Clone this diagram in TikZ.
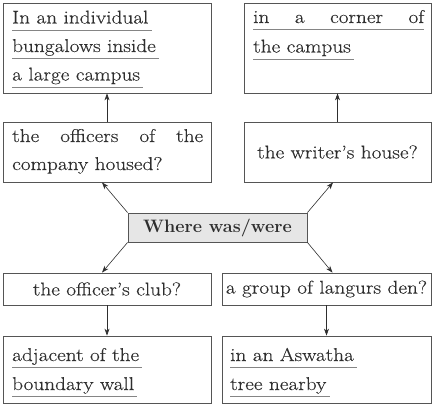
\documentclass[tikz,border=0pt]{standalone}
\usepackage{fontspec}
\setmainfont{Latin Modern Roman}[FakeStretch=1.15, FakeBold=0.3]
\newfontfamily\hubfont{Latin Modern Roman}
\usetikzlibrary{arrows.meta}

\definecolor{inkgray}{HTML}{2E2E2E}
\definecolor{boxgray}{HTML}{555555}
\definecolor{rulegray}{HTML}{858585}
\definecolor{hubfill}{HTML}{E6E6E6}

\begin{document}
\begin{tikzpicture}[x=1pt, y=-1pt,
  every node/.style={font=\fontsize{18.5}{22}\selectfont, text=inkgray},
  box/.style={draw=boxgray, line width=0.8pt, inner sep=0pt},
  ans/.style={anchor=base west, inner sep=0pt},
  uline/.style={draw=rulegray, line width=0.7pt},
  arr/.style={draw=inkgray, line width=0.6pt, -{Stealth[length=7pt, width=5pt]}}]
  \useasboundingbox (0,0) rectangle (435,409);
  % Fragekasten in der Mitte
  \node[box, fill=hubfill, minimum width=179pt, minimum height=29pt,
        font=\hubfont\fontsize{18}{22}\selectfont\bfseries] (hub) at (217.5,227.5) {Where was/were};
  % Fragen
  \node[box, minimum width=208pt, minimum height=60pt] (ml) at (107,152) {};
  \node[box, minimum width=187pt, minimum height=60pt] (mr) at (337.5,152) {the writer's house?};
  \node[box, minimum width=208pt, minimum height=32pt] (bl) at (107,289) {the officer's club?};
  \node[box, minimum width=209pt, minimum height=32pt] (br) at (326.5,289) {a group of langurs den?};
  \node[ans] (ml1) at (12,142) {\makebox[191pt][s]{the officers of the}};
  \node[ans] (ml2) at (12,170) {company housed?};
  % Antworten
  \node[box, minimum width=208pt, minimum height=90pt] (tl) at (107,48) {};
  \node[box, minimum width=187pt, minimum height=90pt] (tr) at (337.5,48) {};
  \node[box, minimum width=208pt, minimum height=67pt] (al) at (107,369.5) {};
  \node[box, minimum width=209pt, minimum height=67pt] (ar) at (326.5,369.5) {};
  \foreach \txt [count=\i] in {In an individual, bungalows inside, a large campus} {
    \node[ans] (tl\i) at (12,{23.5+28.5*(\i-1)}) {\txt};
    \draw[uline] ([yshift=-6.5pt]tl\i.base west) -- ([xshift=3pt, yshift=-6.5pt]tl\i.base east);
  }
  \node[ans] (tr1) at (253,23) {\makebox[171pt][s]{in a corner of}};
  \node[ans] (tr2) at (253,52.5) {the campus};
  \draw[uline] ([yshift=-6.5pt]tr1.base west) -- ([yshift=-6.5pt]tr1.base east);
  \draw[uline] ([yshift=-6.5pt]tr2.base west) -- ([xshift=3pt, yshift=-6.5pt]tr2.base east);
  \foreach \txt [count=\i] in {adjacent of the, boundary wall} {
    \node[ans] (al\i) at (12,{361+29*(\i-1)}) {\txt};
    \draw[uline] ([yshift=-6.5pt]al\i.base west) -- ([xshift=3pt, yshift=-6.5pt]al\i.base east);
  }
  \foreach \txt [count=\i] in {in an Aswatha, tree nearby} {
    \node[ans] (ar\i) at (230,{361+29*(\i-1)}) {\txt};
    \draw[uline] ([yshift=-6.5pt]ar\i.base west) -- ([xshift=3pt, yshift=-6.5pt]ar\i.base east);
  }
  % Pfeile
  \draw[arr] (hub.north west) -- ([xshift=-5pt]ml.south);
  \draw[arr] (hub.north east) -- ([xshift=-4.5pt]mr.south);
  \draw[arr] (hub.south west) -- ([xshift=-5pt]bl.north);
  \draw[arr] (hub.south east) -- ([xshift=6pt]br.north);
  \draw[arr] (ml) -- (tl);
  \draw[arr] (mr) -- (tr);
  \draw[arr] (bl) -- (al);
  \draw[arr] (br) -- (ar);
\end{tikzpicture}
\end{document}
